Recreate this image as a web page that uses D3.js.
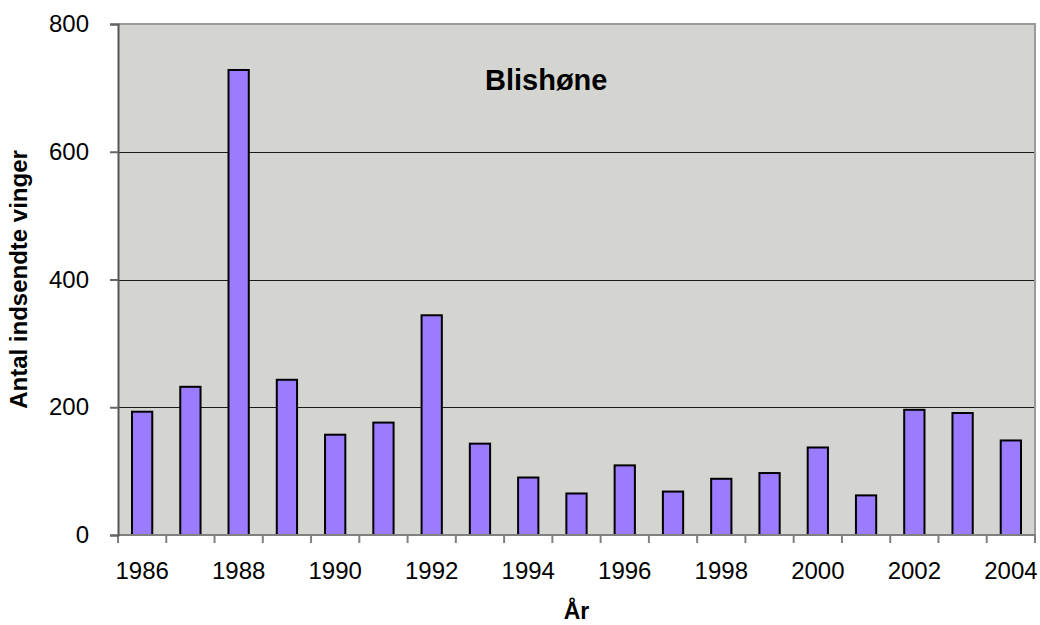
<!DOCTYPE html>
<html>
<head>
<meta charset="utf-8">
<script src="https://cdn.jsdelivr.net/npm/d3@7"></script>
<style>
  body { margin: 0; background: #fff; }
  text { font-family: "Liberation Sans", Arial, sans-serif; }
</style>
</head>
<body>
<div class="container"></div>
<script>
var svgWidth = 1040;
var svgHeight = 625;

// data
var years = ["1986", "1987", "1988", "1989", "1990", "1991", "1992", "1993", "1994", "1995",
  "1996", "1997", "1998", "1999", "2000", "2001", "2002", "2003", "2004"];
var wings = [193, 232, 728, 243, 157, 176, 344, 143, 90, 65,
  109, 68, 88, 97, 137, 62, 196, 191, 148];
var yTicks = [0, 200, 400, 600, 800];
var labelYears = years.filter((d, i) => i % 2 === 0);

var plot = { left: 118, right: 1035, top: 24, bottom: 535 };

var svg = d3.select(".container")
  .append("svg")
  .attr("width", svgWidth)
  .attr("height", svgHeight);

var x = d3.scaleBand()
  .domain(years)
  .range([plot.left, plot.right])
  .paddingInner(0.58)
  .paddingOuter(0.29);

var y = d3.scaleLinear()
  .domain([0, 800])
  .range([plot.bottom, plot.top]);

// plot background
svg.append("rect")
  .attr("x", plot.left)
  .attr("y", plot.top)
  .attr("width", plot.right - plot.left)
  .attr("height", plot.bottom - plot.top)
  .attr("fill", "#d4d5d0");

// gridlines
svg.append("g")
  .selectAll("line")
  .data(yTicks.filter(d => d > 0 && d < 800))
  .enter()
  .append("line")
  .attr("x1", plot.left)
  .attr("x2", plot.right)
  .attr("y1", d => Math.round(y(d)) + 0.5)
  .attr("y2", d => Math.round(y(d)) + 0.5)
  .attr("stroke", "#1a1a1a")
  .attr("stroke-width", 1);

// top and right border
svg.append("path")
  .attr("d", `M${plot.left},${plot.top} H${plot.right} V${plot.bottom}`)
  .attr("fill", "none")
  .attr("stroke", "#9a9a9a")
  .attr("stroke-width", 2);

// bars
svg.append("g")
  .selectAll("rect")
  .data(wings)
  .enter()
  .append("rect")
  .attr("x", (d, i) => x(years[i]))
  .attr("y", d => y(d))
  .attr("width", x.bandwidth())
  .attr("height", d => y(0) - y(d))
  .attr("fill", "#9b7bff")
  .attr("stroke", "#000")
  .attr("stroke-width", 2);

// x axis
var step = x.step();
var xAxis = d3.axisBottom(x)
  .tickValues(labelYears)
  .tickSize(0)
  .tickPadding(27);
var xg = svg.append("g")
  .attr("transform", `translate(0, ${plot.bottom})`)
  .call(xAxis);
xg.select(".domain").remove();
xg.selectAll("text")
  .attr("font-size", 24)
  .attr("font-family", "Liberation Sans, Arial, sans-serif")
  .attr("fill", "#000");

var tickXs = years.map(d => x(d) - (step - x.bandwidth()) / 2).concat([plot.right]);
svg.append("g")
  .selectAll("line")
  .data(tickXs)
  .enter()
  .append("line")
  .attr("x1", d => d)
  .attr("x2", d => d)
  .attr("y1", plot.bottom)
  .attr("y2", plot.bottom + 8)
  .attr("stroke", "#808080")
  .attr("stroke-width", 2);

svg.append("line")
  .attr("x1", plot.left)
  .attr("x2", plot.right + 1)
  .attr("y1", plot.bottom)
  .attr("y2", plot.bottom)
  .attr("stroke", "#808080")
  .attr("stroke-width", 2);

// y axis
var yAxis = d3.axisLeft(y)
  .tickValues(yTicks)
  .tickSize(8)
  .tickPadding(21);
var yg = svg.append("g")
  .attr("transform", `translate(${plot.left}, 0)`)
  .call(yAxis);
yg.select(".domain")
  .attr("stroke", "#555")
  .attr("stroke-width", 2);
yg.selectAll(".tick line")
  .attr("stroke", "#666")
  .attr("stroke-width", 2);
yg.selectAll("text")
  .attr("font-size", 24)
  .attr("font-family", "Liberation Sans, Arial, sans-serif")
  .attr("fill", "#000");

// titles
svg.append("text")
  .attr("x", 485)
  .attr("y", 90)
  .attr("font-size", 29)
  .attr("font-weight", "bold")
  .text("Blishøne");

svg.append("text")
  .attr("x", (plot.left + plot.right) / 2)
  .attr("y", 619)
  .attr("text-anchor", "middle")
  .attr("font-size", 23)
  .attr("font-weight", "bold")
  .text("År");

svg.append("text")
  .attr("transform", `translate(27, ${(plot.top + plot.bottom) / 2}) rotate(-90)`)
  .attr("text-anchor", "middle")
  .attr("font-size", 24)
  .attr("font-weight", "bold")
  .text("Antal indsendte vinger");
</script>
</body>
</html>
